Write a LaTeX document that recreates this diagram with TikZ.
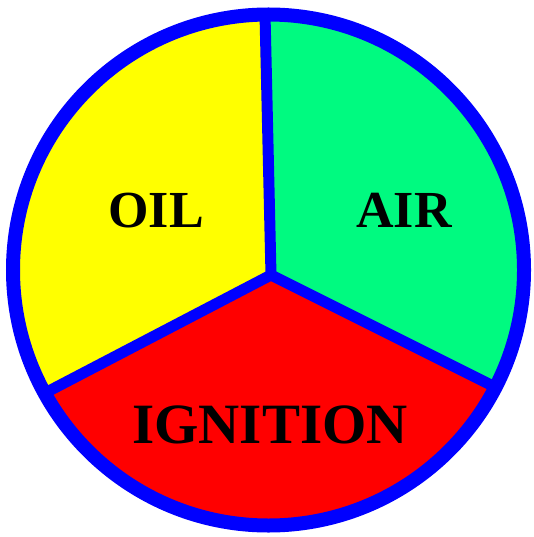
\documentclass[tikz,border=0pt]{standalone}
\usepackage{fontspec}
\setmainfont{Liberation Serif}
\definecolor{oilyellow}{RGB}{255,255,0}
\definecolor{airgreen}{RGB}{0,250,128}
\definecolor{ignred}{RGB}{255,0,0}
\definecolor{rimblue}{RGB}{0,0,255}
\tikzset{
  rim/.style={draw=rimblue, line width=14pt},
  divider/.style={draw=rimblue, line width=11pt, line join=round},
  label/.style={anchor=base, text=black, font=\bfseries}
}
\begin{document}
\begin{tikzpicture}[x=1pt,y=-1pt]
\useasboundingbox (0,0) rectangle (534,537);
\coordinate (C) at (268.5,270);
\coordinate (J) at (271,275);
\coordinate (T) at (265,14);
\coordinate (L) at (45,393);
\coordinate (R) at (497,388);
\begin{scope}
  \clip (C) circle (255.5);
  \fill[oilyellow] (J) -- (263.5,-50) -- (-50,-50) -- (-50,443) -- cycle;
  \fill[airgreen] (J) -- (263.5,-50) -- (600,-50) -- (600,439.5) -- cycle;
  \fill[ignred] (J) -- (-50,443) -- (-50,600) -- (600,600) -- (600,439.5) -- cycle;
\end{scope}
\draw[divider] (T) -- (J) -- (L);
\draw[divider] (J) -- (R);
\draw[rim] (C) circle (255.5);
\node[label, font=\bfseries\fontsize{52}{52}\selectfont] (oil) at (156,227) {OIL};
\node[label, font=\bfseries\fontsize{52}{52}\selectfont] (air) at (404,227) {AIR};
\node[label, font=\bfseries\fontsize{57}{57}\selectfont] (ign) at (270,443) {IGNITION};
\end{tikzpicture}
\end{document}
